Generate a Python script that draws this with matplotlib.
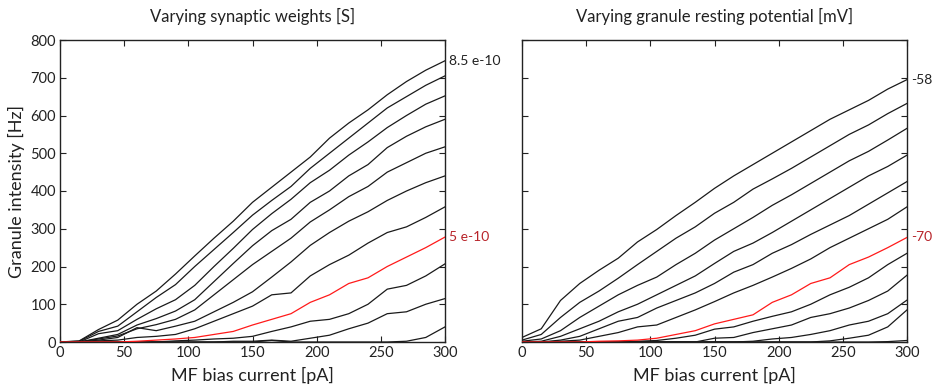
import matplotlib
matplotlib.use("Agg")
import matplotlib.pyplot as plt

plt.rcParams["font.family"] = ["Lato", "DejaVu Sans"]

# MF bias current [pA], shared by all curves
bias = [0, 15, 30, 45, 60, 75, 90, 105, 120, 135, 150,
        165, 180, 195, 210, 225, 240, 255, 270, 285, 300]

# left panel: synaptic weight series, top (8.5 e-10) to bottom (3.5 e-10)
w_labels = ["8.5 e-10", "8 e-10", "7.5 e-10", "7 e-10", "6.5 e-10", "6 e-10",
            "5.5 e-10", "5 e-10", "4.5 e-10", "4 e-10", "3.5 e-10"]
w_85 = [0, 3, 33, 58, 100, 135, 180, 228, 275, 320, 370, 410, 450, 490, 540, 580, 615, 655, 690, 720, 745]
w_80 = [0, 2, 28, 42, 80, 118, 152, 200, 245, 290, 336, 375, 412, 460, 500, 540, 580, 620, 650, 680, 705]
w_75 = [0, 0, 22, 30, 60, 88, 112, 150, 200, 248, 298, 340, 378, 422, 455, 495, 530, 568, 600, 630, 652]
w_70 = [0, 0, 10, 20, 45, 62, 82, 112, 160, 208, 255, 295, 325, 370, 400, 440, 470, 515, 545, 570, 590]
w_65 = [0, 0, 8, 16, 35, 46, 60, 85, 125, 165, 205, 240, 275, 318, 350, 385, 412, 450, 475, 500, 517]
w_60 = [0, 0, 5, 12, 38, 30, 42, 55, 80, 105, 133, 172, 212, 256, 290, 320, 345, 375, 400, 422, 440]
w_55 = [0, 0, 3, 5, 12, 15, 20, 35, 55, 75, 95, 125, 130, 175, 205, 230, 262, 290, 305, 330, 358]
w_50 = [0, 0, 0, 0, 2, 5, 8, 12, 20, 28, 45, 60, 75, 105, 125, 155, 170, 200, 225, 250, 278]
w_45 = [0, 0, 0, 0, 0, 0, 3, 5, 8, 10, 15, 28, 40, 55, 60, 75, 100, 140, 150, 175, 207]
w_40 = [0, 0, 0, 0, 0, 0, 0, 0, 0, 2, 2, 5, 2, 10, 18, 35, 50, 75, 80, 100, 115]
w_35 = [0, 0, 0, 0, 0, 0, 0, 0, 0, 0, 0, 4, 0, 0, 0, 0, 0, 0, 2, 12, 40]
weights = [w_85, w_80, w_75, w_70, w_65, w_60, w_55, w_50, w_45, w_40, w_35]

# right panel: resting potential series, top (-58 mV) to bottom (-80 mV)
v_labels = ["-58", "-60", "-62", "-64", "-66", "-68", "-70",
            "-72", "-74", "-76", "-78", "-80"]
v_58 = [12, 35, 110, 155, 190, 222, 265, 298, 335, 370, 407, 440, 470, 500, 530, 560, 590, 615, 640, 670, 695]
v_60 = [5, 20, 65, 105, 135, 169, 205, 240, 275, 305, 341, 370, 405, 432, 460, 490, 520, 550, 575, 605, 632]
v_62 = [2, 8, 30, 65, 95, 125, 150, 172, 205, 235, 270, 300, 330, 362, 390, 420, 450, 480, 505, 535, 566]
v_64 = [0, 2, 15, 35, 55, 80, 100, 125, 150, 175, 208, 240, 262, 290, 320, 350, 380, 410, 440, 465, 495]
v_66 = [0, 0, 5, 15, 35, 55, 65, 90, 110, 130, 155, 185, 205, 235, 258, 285, 310, 335, 365, 395, 425]
v_68 = [0, 0, 2, 5, 15, 25, 40, 45, 65, 85, 107, 130, 150, 172, 195, 220, 250, 275, 300, 325, 358]
v_70 = [0, 0, 0, 0, 2, 3, 5, 10, 20, 30, 48, 60, 72, 105, 125, 155, 170, 205, 225, 250, 277]
v_72 = [0, 0, 0, 0, 0, 0, 2, 4, 10, 18, 34, 40, 55, 68, 80, 100, 125, 145, 170, 205, 235]
v_74 = [0, 0, 0, 0, 0, 0, 0, 0, 0, 0, 10, 12, 25, 35, 45, 65, 75, 90, 110, 135, 177]
v_76 = [0, 0, 0, 0, 0, 0, 0, 0, 0, 0, 0, 0, 2, 8, 12, 20, 30, 45, 55, 75, 111]
v_78 = [0, 0, 0, 0, 0, 0, 0, 0, 0, 0, 0, 0, 0, 0, 0, 0, 3, 10, 18, 40, 85]
v_80 = [0, 0, 0, 0, 0, 0, 0, 0, 0, 0, 0, 0, 0, 0, 0, 0, 0, 0, 0, 1, 4]
potentials = [v_58, v_60, v_62, v_64, v_66, v_68, v_70, v_72, v_74, v_76, v_78, v_80]

LINE = "#1a1a1a"
RED_LINE = "#ff1a1a"
RED_TEXT = "#b8242a"

fig = plt.figure(figsize=(9.34, 3.9), dpi=100)
ax1 = fig.add_axes([60 / 934, 48 / 390, 385 / 934, 302 / 390])
ax2 = fig.add_axes([522 / 934, 48 / 390, 385 / 934, 302 / 390])


def draw_panel(ax, series, labels, red_idx, title):
    for i, ys in enumerate(series):
        col = RED_LINE if i == red_idx else LINE
        ax.plot(bias, ys, color=col, lw=0.9, zorder=3 if i == red_idx else 2)
    # labels on the top curve and the reference (red) curve
    for i in (0, red_idx):
        ax.annotate(labels[i], xy=(bias[-1], series[i][-1]), xytext=(3, 0),
                    textcoords="offset points", va="center", ha="left",
                    fontsize=10, color=RED_TEXT if i == red_idx else "#222222",
                    annotation_clip=False)
    ax.set_xlim(0, 300)
    ax.set_ylim(0, 800)
    ax.set_xticks(range(0, 301, 50))
    ax.set_yticks(range(0, 801, 100))
    ax.tick_params(direction="in", top=True, right=True, length=4,
                   width=0.8, labelsize=10.5, pad=3, colors="#222222")
    for sp in ax.spines.values():
        sp.set_linewidth(1.0)
        sp.set_color("#222222")
    ax.set_xlabel("MF bias current [pA]", fontsize=13, labelpad=5, color="#222222")
    ax.set_title(title, fontsize=12, pad=13, color="#222222")


draw_panel(ax1, weights, w_labels, 7, "Varying synaptic weights [S]")
ax1.set_ylabel("Granule intensity [Hz]", fontsize=13, labelpad=4, color="#222222")

draw_panel(ax2, potentials, v_labels, 6, "Varying granule resting potential [mV]")
ax2.tick_params(labelleft=False)

fig.savefig("out.png", dpi=100)
